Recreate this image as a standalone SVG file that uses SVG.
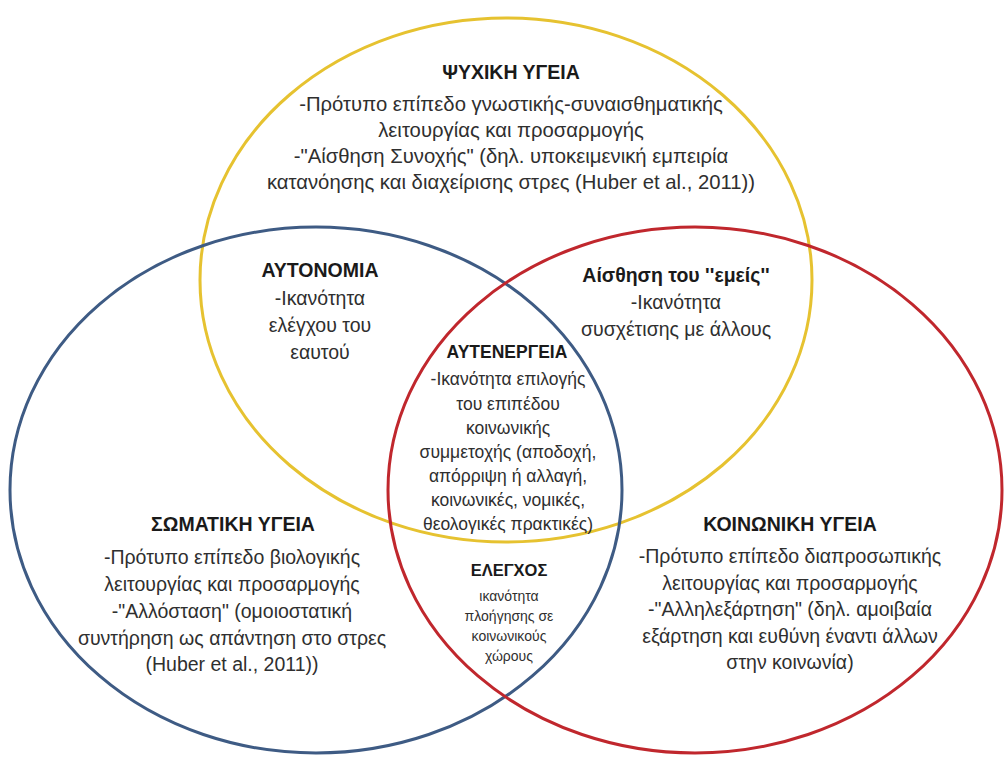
<svg xmlns="http://www.w3.org/2000/svg" width="1006" height="758" viewBox="0 0 1006 758">
<style>
.c{fill:none;stroke-width:3}
text{font-family:"Liberation Sans",Arial,sans-serif;text-anchor:middle;fill:#2f2f2f}
.t{font-weight:bold;fill:#1a1a1a;font-size:19.5px}
.b{font-size:19.5px}
.p{font-size:20.3px}
.tm{font-weight:bold;fill:#1a1a1a;font-size:17.5px}
.m{font-size:17.5px}
.ts{font-weight:bold;fill:#1a1a1a;font-size:16.5px}
.s{font-size:14px}
</style>
<rect width="1006" height="758" fill="#ffffff"/>
<g id="circles">
<ellipse class="c" cx="506" cy="280" rx="306" ry="262" stroke="#E6C230"/>
<ellipse class="c" cx="316" cy="490" rx="306" ry="263" stroke="#3E5B84"/>
<ellipse class="c" cx="695" cy="490" rx="307" ry="263" stroke="#C0272D"/>
</g>
<g id="psychiki">
<text class="t" x="511" y="79">ΨΥΧΙΚΗ ΥΓΕΙΑ</text>
<text class="p" x="511" y="111">-Πρότυπο επίπεδο γνωστικής-συναισθηματικής</text>
<text class="p" x="511" y="137">λειτουργίας και προσαρμογής</text>
<text class="p" x="511" y="163">-"Αίσθηση Συνοχής" (δηλ. υποκειμενική εμπειρία</text>
<text class="p" x="511" y="189">κατανόησης και διαχείρισης στρες (Huber et al., 2011))</text>
</g>
<g id="autonomia">
<text class="t" x="320" y="277">ΑΥΤΟΝΟΜΙΑ</text>
<text class="b" x="320" y="305">-Ικανότητα</text>
<text class="b" x="320" y="332">ελέγχου του</text>
<text class="b" x="320" y="359">εαυτού</text>
</g>
<g id="emeis">
<text class="t" x="676" y="282">Αίσθηση του ''εμείς''</text>
<text class="b" x="676" y="309">-Ικανότητα</text>
<text class="b" x="676" y="336">συσχέτισης με άλλους</text>
</g>
<g id="autenergeia">
<text class="tm" x="507" y="358">ΑΥΤΕΝΕΡΓΕΙΑ</text>
<text class="m" x="508" y="385">-Ικανότητα επιλογής</text>
<text class="m" x="508" y="410">του επιπέδου</text>
<text class="m" x="508" y="434">κοινωνικής</text>
<text class="m" x="508" y="458">συμμετοχής (αποδοχή,</text>
<text class="m" x="508" y="482">απόρριψη ή αλλαγή,</text>
<text class="m" x="508" y="506">κοινωνικές, νομικές,</text>
<text class="m" x="508" y="530">θεολογικές πρακτικές)</text>
</g>
<g id="somatiki">
<text class="t" x="233" y="531">ΣΩΜΑΤΙΚΗ ΥΓΕΙΑ</text>
<text class="b" x="232" y="564">-Πρότυπο επίπεδο βιολογικής</text>
<text class="b" x="232" y="591">λειτουργίας και προσαρμογής</text>
<text class="b" x="232" y="618">-"Αλλόσταση" (ομοιοστατική</text>
<text class="b" x="232" y="645">συντήρηση ως απάντηση στο στρες</text>
<text class="b" x="232" y="671">(Huber et al., 2011))</text>
</g>
<g id="koinoniki">
<text class="t" x="790" y="531">ΚΟΙΝΩΝΙΚΗ ΥΓΕΙΑ</text>
<text class="b" x="790" y="563">-Πρότυπο επίπεδο διαπροσωπικής</text>
<text class="b" x="790" y="590">λειτουργίας και προσαρμογής</text>
<text class="b" x="790" y="616">-"Αλληλεξάρτηση" (δηλ. αμοιβαία</text>
<text class="b" x="790" y="643">εξάρτηση και ευθύνη έναντι άλλων</text>
<text class="b" x="790" y="669">στην κοινωνία)</text>
</g>
<g id="elegxos">
<text class="ts" x="509" y="576">ΕΛΕΓΧΟΣ</text>
<text class="s" x="509" y="601">ικανότητα</text>
<text class="s" x="509" y="621">πλοήγησης σε</text>
<text class="s" x="509" y="641">κοινωνικούς</text>
<text class="s" x="509" y="661">χώρους</text>
</g>
</svg>
